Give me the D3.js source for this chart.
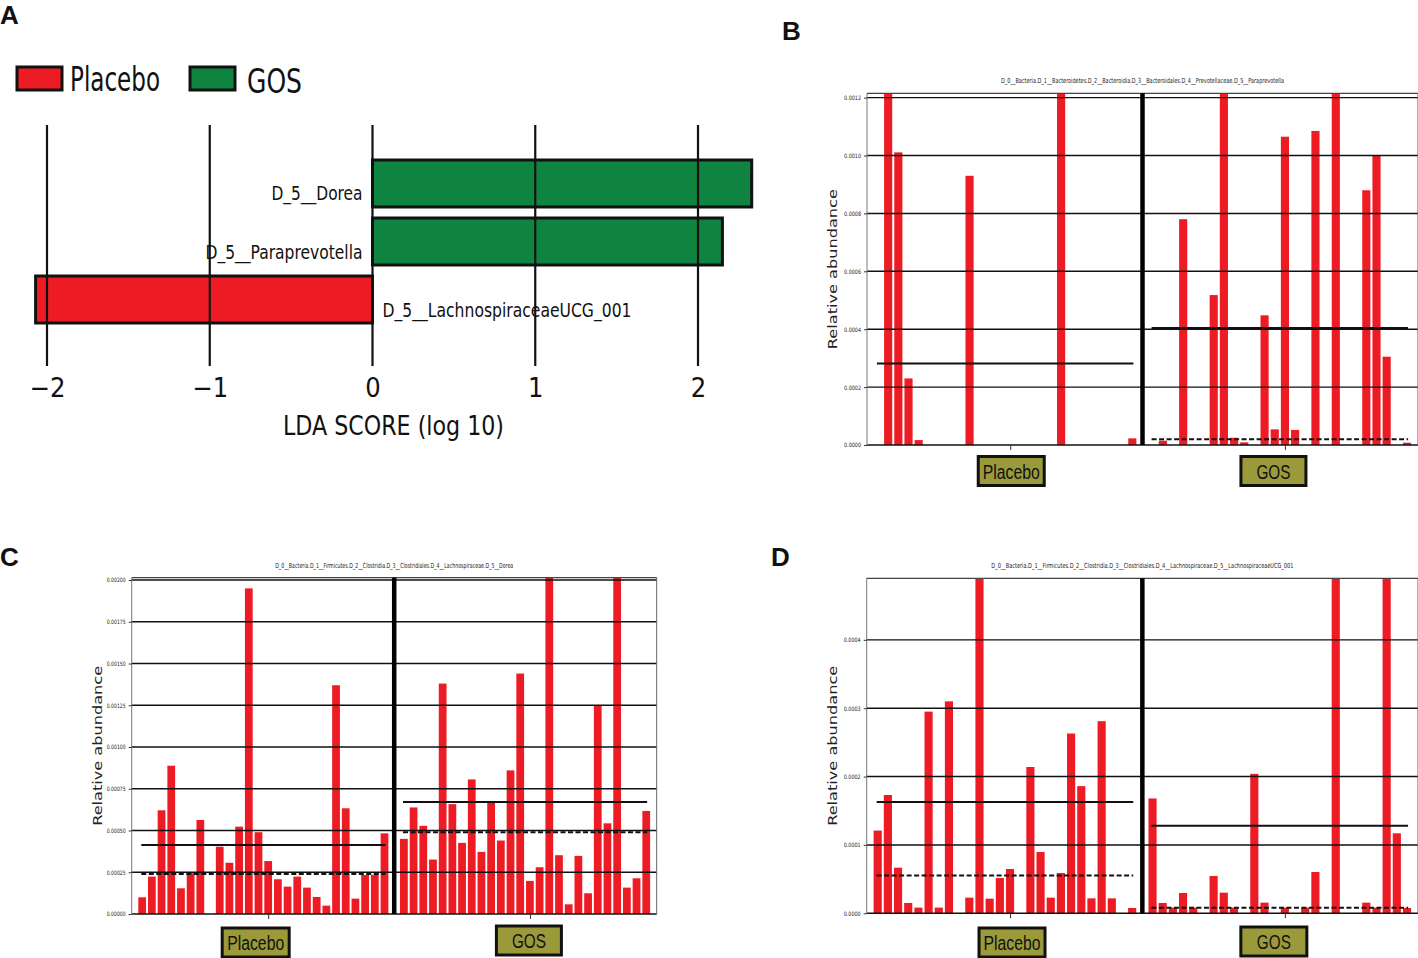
<!DOCTYPE html>
<html><head><meta charset="utf-8">
<script src="https://cdn.jsdelivr.net/npm/d3@7"></script>
<style>body{margin:0;background:#fff}svg{display:block}</style>
</head><body>
<svg id="c" width="1418" height="958"></svg>
<script>
// ---------------- DATA ----------------
const classes = ["Placebo", "GOS"];
// Panel A: LDA scores
const ldaFeatures = ["D_5__Dorea", "D_5__Paraprevotella", "D_5__LachnospiraceaeUCG_001"];
const ldaScores = [2.33, 2.15, -2.07];
const ldaClass = ["GOS", "GOS", "Placebo"];
const ldaTicks = [-2, -1, 0, 1, 2];

// Panel B: Paraprevotella relative abundance per sample
const paraPlacebo = [0, 0.0027, 0.001011, 0.00023, 0.000017, 0, 0, 0, 0, 0.00093, 0, 0, 0, 0, 0, 0, 0, 0, 0.00242, 0, 0, 0, 0, 0, 0, 0.000023];
const paraGOS = [0, 0.000015, 0, 0.00078, 0, 0, 0.000518, 0.00215, 0.000025, 0.0000092, 0, 0.000448, 0.000054, 0.001065, 0.000052, 0, 0.001085, 0, 0.00211, 0, 0, 0.00088, 0.001001, 0.000305, 0, 0.000008];
const paraTicks = [0, 0.0002, 0.0004, 0.0006, 0.0008, 0.0010, 0.0012];
const paraTitle = "D_0__Bacteria.D_1__Bacteroidetes.D_2__Bacteroidia.D_3__Bacteroidales.D_4__Prevotellaceae.D_5__Paraprevotella";

// Panel C: Dorea
const doreaPlacebo = [0.0001, 0.000224, 0.000621, 0.000888, 0.000154, 0.000244, 0.000563, 0, 0.000403, 0.000307, 0.000523, 0.00195, 0.00049, 0.000317, 0.000208, 0.000164, 0.000224, 0.000158, 0.000102, 0.00005, 0.00137, 0.000633, 0.000092, 0.000234, 0.000234, 0.000483];
const doreaGOS = [0.00045, 0.000638, 0.000528, 0.000326, 0.00138, 0.000658, 0.000426, 0.000806, 0.000372, 0.00067, 0.00044, 0.00086, 0.00144, 0.000198, 0.00028, 0.00217, 0.000352, 0.000058, 0.000348, 0.000124, 0.00125, 0.000543, 0.00214, 0.000158, 0.000214, 0.000617];
const doreaTicks = [0, 0.00025, 0.0005, 0.00075, 0.001, 0.00125, 0.0015, 0.00175, 0.002];
const doreaTitle = "D_0__Bacteria.D_1__Firmicutes.D_2__Clostridia.D_3__Clostridiales.D_4__Lachnospiraceae.D_5__Dorea";

// Panel D: LachnospiraceaeUCG_001
const lachPlacebo = [0.000121, 0.000173, 0.0000667, 0.0000151, 0.0000083, 0.000295, 0.0000083, 0.00031, 0, 0.0000229, 0.00191, 0.0000214, 0.0000516, 0.0000648, 0, 0.000214, 0.0000896, 0.0000229, 0.0000589, 0.000263, 0.000186, 0.0000219, 0.000281, 0.0000219, 0, 0.0000078];
const lachGOS = [0.000168, 0.0000151, 0.0000083, 0.0000297, 0.0000083, 0, 0.0000546, 0.0000302, 0.0000083, 0, 0.000204, 0.0000156, 0, 0.0000083, 0, 0.0000083, 0.0000604, 0, 0.00129, 0, 0, 0.0000156, 0.0000083, 0.00127, 0.000117, 0.0000078];
const lachTicks = [0, 0.0001, 0.0002, 0.0003, 0.0004];
const lachTitle = "D_0__Bacteria.D_1__Firmicutes.D_2__Clostridia.D_3__Clostridiales.D_4__Lachnospiraceae.D_5__LachnospiraceaeUCG_001";

// ---------------- STYLE ----------------
const RED = "#ed1c24", GREEN = "#0f8440", OLIVE = "#9b9a3b";
const COND = "'DejaVu Sans Condensed','DejaVu Sans',sans-serif";
const svg = d3.select("#c");

// ---------------- PANEL LETTERS ----------------
[["A", 0, 24], ["B", 782, 40], ["C", 0, 566], ["D", 771, 566]].forEach(([t, x, y]) => {
  svg.append("text").attr("x", x).attr("y", y).text(t)
    .attr("font-family", "'Liberation Sans',Arial,sans-serif").attr("font-weight", "bold")
    .attr("font-size", 26).attr("fill", "#111");
});

// ---------------- PANEL A ----------------
(function () {
  const g = svg.append("g");
  const x = d3.scaleLinear().domain([-2, 2]).range([47, 698]);
  const y = d3.scaleBand().domain(ldaFeatures).range([160, 323]).paddingInner(0.19).paddingOuter(0);
  const color = d3.scaleOrdinal().domain(classes).range([RED, GREEN]);

  // legend
  const leg = [{c: "Placebo", rx: 17, tx: 70, tl: 90, ty: 90.5}, {c: "GOS", rx: 190, tx: 247, tl: 55, ty: 93}];
  leg.forEach(d => {
    g.append("rect").attr("x", d.rx).attr("y", 67).attr("width", 45).attr("height", 23)
      .attr("fill", color(d.c)).attr("stroke", "#111").attr("stroke-width", 3);
    g.append("text").attr("x", d.tx).attr("y", d.ty).text(d.c)
      .attr("font-family", COND).attr("font-size", 33).attr("fill", "#111")
      .attr("textLength", d.tl).attr("lengthAdjust", "spacingAndGlyphs");
  });

  const data = ldaFeatures.map((f, i) => ({f, v: ldaScores[i], c: ldaClass[i]}));
  g.selectAll("rect.bar").data(data).join("rect").attr("class", "bar")
    .attr("x", d => x(Math.min(0, d.v))).attr("width", d => Math.abs(x(d.v) - x(0)))
    .attr("y", d => y(d.f)).attr("height", y.bandwidth())
    .attr("fill", d => color(d.c)).attr("stroke", "#111").attr("stroke-width", 3);

  // grid lines
  g.selectAll("line.grid").data(ldaTicks).join("line").attr("class", "grid")
    .attr("x1", d => x(d)).attr("x2", d => x(d)).attr("y1", 125).attr("y2", 366)
    .attr("stroke", "#111").attr("stroke-width", 2.2);

  // feature labels
  const lblLen = {"D_5__Dorea": 91, "D_5__Paraprevotella": 157, "D_5__LachnospiraceaeUCG_001": 249};
  g.selectAll("text.feat").data(data).join("text").attr("class", "feat")
    .attr("x", d => d.v > 0 ? x(0) - 10 : x(0) + 10)
    .attr("y", d => y(d.f) + y.bandwidth() / 2 + 17)
    .attr("text-anchor", d => d.v > 0 ? "end" : "start")
    .attr("font-family", COND).attr("font-size", 19).attr("fill", "#111")
    .attr("textLength", d => lblLen[d.f]).attr("lengthAdjust", "spacingAndGlyphs")
    .text(d => d.f);

  // axis
  const ax = g.append("g").attr("transform", "translate(0,378)")
    .call(d3.axisBottom(x).tickValues(ldaTicks).tickFormat(d3.format("d")).tickSize(0).tickPadding(0));
  ax.select(".domain").remove();
  ax.selectAll("text").attr("font-family", COND).attr("font-size", 27).attr("fill", "#111");

  g.append("text").attr("x", 393.5).attr("y", 435).attr("text-anchor", "middle")
    .attr("font-family", COND).attr("font-size", 27).attr("fill", "#111")
    .attr("textLength", 221).attr("lengthAdjust", "spacingAndGlyphs")
    .text("LDA SCORE (log 10)");
})();

// ---------------- ABUNDANCE PANELS ----------------
let clipId = 0;
function abundancePanel(cfg) {
  const {placebo, gos, ticks, fmt, L, R, T, B, yMax, title, titleLen, ylabX, tickLen, boxes} = cfg;
  const g = svg.append("g");
  const nP = placebo.length, nG = gos.length;
  const gap = 1;
  const slots = d3.range(nP + gap + nG);
  const x = d3.scaleBand().domain(slots).range([L, R]).paddingInner(0.2).paddingOuter(0.68);
  const y = d3.scaleLinear().domain([0, yMax]).range([B, T]);
  const bw = x.bandwidth();

  const id = "clip" + (clipId++);
  g.append("clipPath").attr("id", id).append("rect")
    .attr("x", L).attr("y", T).attr("width", R - L).attr("height", B - T);

  const groups = [
    {c: "Placebo", vals: placebo, s0: 0, s1: nP - 1},
    {c: "GOS", vals: gos, s0: nP + gap, s1: nP + gap + nG - 1}
  ];
  const bars = [];
  groups.forEach(gr => gr.vals.forEach((v, i) => bars.push({slot: gr.s0 + i, v})));

  const plot = g.append("g").attr("clip-path", `url(#${id})`);
  plot.selectAll("rect").data(bars).join("rect")
    .attr("x", d => x(d.slot)).attr("width", bw)
    .attr("y", d => y(d.v)).attr("height", d => y(0) - y(d.v))
    .attr("fill", RED);

  // horizontal grid lines
  g.selectAll("line.grid").data(ticks).join("line").attr("class", "grid")
    .attr("x1", L).attr("x2", R).attr("y1", d => y(d)).attr("y2", d => y(d))
    .attr("stroke", "#111").attr("stroke-width", 1.4);

  // frame
  g.append("line").attr("x1", L).attr("x2", R).attr("y1", T).attr("y2", T).attr("stroke", "#444").attr("stroke-width", 1.2);
  g.append("line").attr("x1", R).attr("x2", R).attr("y1", T).attr("y2", B).attr("stroke", "#666").attr("stroke-width", 1);

  // divider
  const dx = x(nP) + bw / 2;
  g.append("line").attr("x1", dx).attr("x2", dx).attr("y1", T).attr("y2", B)
    .attr("stroke", "#000").attr("stroke-width", 4.5);

  // mean / median lines
  groups.forEach(gr => {
    const x1 = x(gr.s0) + 3, x2 = x(gr.s1) + bw - 3;
    const m = d3.mean(gr.vals), md = d3.median(gr.vals);
    g.append("line").attr("x1", x1).attr("x2", x2).attr("y1", y(m)).attr("y2", y(m))
      .attr("stroke", "#111").attr("stroke-width", 2);
    if (md > 0) {
      g.append("line").attr("x1", x1).attr("x2", x2).attr("y1", y(md)).attr("y2", y(md))
        .attr("stroke", "#111").attr("stroke-width", 2).attr("stroke-dasharray", "5,2.5");
    }
  });

  // y axis
  const ya = g.append("g").attr("transform", `translate(${L},0)`)
    .call(d3.axisLeft(y).tickValues(ticks).tickFormat(d3.format(fmt)).tickSize(3).tickPadding(3));
  ya.select(".domain").attr("stroke", "#777").attr("d", `M0,${B}V${T}`);
  ya.selectAll(".tick line").attr("stroke", "#333");
  ya.selectAll("text").attr("font-family", COND).attr("font-size", 6).attr("fill", "#222")
    .attr("textLength", tickLen).attr("lengthAdjust", "spacingAndGlyphs");

  // x axis class ticks
  const centers = groups.map(gr => (x(gr.s0) + x(gr.s1) + bw) / 2 + x.step() / 2);
  const xc = d3.scaleOrdinal().domain(classes).range(centers);
  const xa = g.append("g").attr("transform", `translate(0,${B})`)
    .call(d3.axisBottom(xc).tickSize(5).tickFormat(""));
  xa.select(".domain").remove();
  xa.selectAll(".tick line").attr("stroke", "#333").attr("stroke-width", 1);

  // class label boxes
  classes.forEach((c, i) => {
    const b = boxes[i];
    const cx = xc(c) + b.dx;
    g.append("rect").attr("x", cx - b.w / 2).attr("y", b.y).attr("width", b.w).attr("height", 29)
      .attr("fill", OLIVE).attr("stroke", "#111").attr("stroke-width", 3);
    g.append("text").attr("x", cx).attr("y", b.y + 22).attr("text-anchor", "middle")
      .attr("font-family", "'Liberation Sans',Arial,sans-serif").attr("font-size", 20).attr("fill", "#111")
      .attr("textLength", c === "Placebo" ? 57 : 34).attr("lengthAdjust", "spacingAndGlyphs")
      .text(c);
  });

  // title
  g.append("text").attr("x", (L + R) / 2).attr("y", T - 10).attr("text-anchor", "middle")
    .attr("font-family", COND).attr("font-size", 7).attr("fill", "#222")
    .attr("textLength", titleLen).attr("lengthAdjust", "spacingAndGlyphs").text(title);

  // y label
  const ym = (T + B) / 2;
  g.append("text").attr("transform", `translate(${ylabX},${ym}) rotate(-90)`)
    .attr("text-anchor", "middle").attr("font-family", "'DejaVu Sans',sans-serif")
    .attr("font-size", 12).attr("fill", "#222")
    .attr("textLength", 160).attr("lengthAdjust", "spacingAndGlyphs")
    .text("Relative abundance");
}

abundancePanel({
  placebo: paraPlacebo, gos: paraGOS, ticks: paraTicks, fmt: ".4f",
  L: 867, R: 1418, T: 93.3, B: 445, yMax: 0.001215,
  title: paraTitle, titleLen: 283, ylabX: 837, tickLen: 17,
  boxes: [{dx: 1, w: 66, y: 456.5}, {dx: -11.5, w: 65, y: 456.5}]
});
abundancePanel({
  placebo: doreaPlacebo, gos: doreaGOS, ticks: doreaTicks, fmt: ".5f",
  L: 131.7, R: 656.7, T: 577.7, B: 914, yMax: 0.002014,
  title: doreaTitle, titleLen: 238, ylabX: 102, tickLen: 19,
  boxes: [{dx: -12.5, w: 67, y: 928}, {dx: -1, w: 65, y: 926}]
});
abundancePanel({
  placebo: lachPlacebo, gos: lachGOS, ticks: lachTicks, fmt: ".4f",
  L: 866.7, R: 1418, T: 578.3, B: 913.3, yMax: 0.00049,
  title: lachTitle, titleLen: 302, ylabX: 837, tickLen: 17,
  boxes: [{dx: 2, w: 66, y: 928}, {dx: -11, w: 66, y: 927}]
});
</script>
</body></html>
